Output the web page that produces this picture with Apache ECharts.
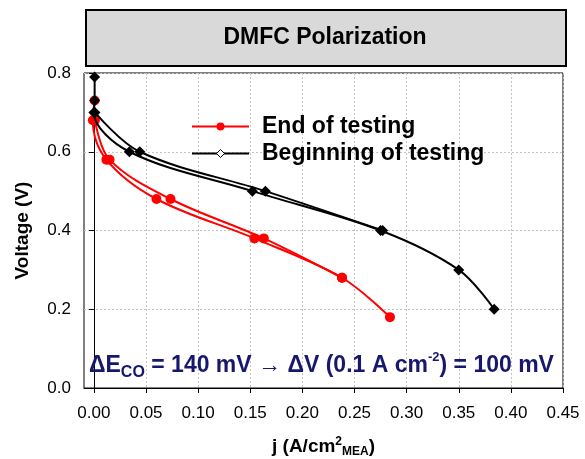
<!DOCTYPE html>
<html>
<head>
<meta charset="utf-8">
<script src="https://cdn.jsdelivr.net/npm/echarts@6/dist/echarts.min.js"></script>
<style>
  html, body { margin: 0; padding: 0; background: #fff; }
  #chart { width: 585px; height: 459px; }
</style>
</head>
<body>
<div id="chart"></div>
<script>
// Axis tick values
const xTickValues = [0.00, 0.05, 0.10, 0.15, 0.20, 0.25, 0.30, 0.35, 0.40, 0.45];
const yTickValues = [0.0, 0.2, 0.4, 0.6, 0.8];

// End of testing: current density (A/cm2) and cell voltage (V), down-sweep then return sweep
const endDownJ = [0.0007, -0.001, 0.012, 0.060, 0.154, 0.238, 0.284];
const endDownV = [0.73, 0.68, 0.58, 0.48, 0.38, 0.28, 0.18];
const endUpJ   = [0.238, 0.163, 0.0735, 0.015, 0.001];
const endUpV   = [0.28, 0.38, 0.48, 0.58, 0.68];

// Beginning of testing
const begDownJ = [0.0007, 0.0007, 0.000, 0.034, 0.152, 0.275, 0.350, 0.384];
const begDownV = [0.79, 0.73, 0.70, 0.60, 0.50, 0.40, 0.30, 0.20];
const begUpJ   = [0.277, 0.1645, 0.044, 0.001];
const begUpV   = [0.40, 0.50, 0.60, 0.70];

const pair = (xs, ys) => xs.map((x, i) => [x, ys[i]]);

const FONT = 'Liberation Sans, Arial, sans-serif';
const NAVY = '#17176e';
const END_NAME = 'End of testing';
const BEG_NAME = 'Beginning of testing';

const redSeries = (data) => ({
  name: END_NAME, type: 'line', data, smooth: 0.35,
  symbol: 'circle', symbolSize: 10,
  itemStyle: { color: '#ff0000' },
  lineStyle: { color: '#ff0000', width: 2 },
  z: 3
});
const blackSeries = (data) => ({
  name: BEG_NAME, type: 'line', data, smooth: 0.35,
  symbol: 'diamond', symbolSize: 11,
  itemStyle: { color: '#000' },
  lineStyle: { color: '#000', width: 2 },
  z: 4
});

const chart = echarts.init(document.getElementById('chart'), null, { renderer: 'canvas' });
chart.setOption({
  animation: false,
  backgroundColor: '#fff',
  textStyle: { fontFamily: FONT },
  grid: {
    left: 84, right: 22, top: 73, bottom: 71, containLabel: false, outerBoundsMode: 'none',
    show: true, borderColor: '#000', borderWidth: 1
  },
  legend: {
    orient: 'vertical', left: 186, top: 110, itemWidth: 57, itemHeight: 10, itemGap: 4,
    textStyle: { fontSize: 23, fontWeight: 'bold', color: '#000', fontFamily: FONT, padding: [0, 0, 0, 8] },
    data: [
      { name: END_NAME },
      { name: BEG_NAME, itemStyle: { color: '#fff', borderColor: '#000', borderWidth: 1 } }
    ]
  },
  xAxis: {
    type: 'value', min: -0.0095, max: 0.45,
    name: '{b|j (A/cm}{sup|2}{sub|MEA}{b|)}',
    nameLocation: 'middle', nameGap: 48,
    nameTextStyle: {
      rich: {
        b:   { fontSize: 19, fontWeight: 'bold', color: '#000', fontFamily: FONT, lineHeight: 22 },
        sup: { fontSize: 12, fontWeight: 'bold', color: '#000', fontFamily: FONT, verticalAlign: 'top', lineHeight: 22 },
        sub: { fontSize: 12, fontWeight: 'bold', color: '#000', fontFamily: FONT, verticalAlign: 'bottom', lineHeight: 22, padding: [7, 0, 0, 0] }
      }
    },
    axisLine: { show: true, onZero: false, lineStyle: { color: '#000', width: 1 } },
    axisTick: { show: true, inside: false, length: 5, customValues: xTickValues, lineStyle: { color: '#000' } },
    axisLabel: {
      customValues: xTickValues, margin: 17, fontSize: 17, color: '#000', fontFamily: FONT,
      formatter: (v) => v.toFixed(2)
    },
    splitLine: { show: true, lineStyle: { color: '#c4c4c4', width: 1, type: [2, 2] } }
  },
  yAxis: {
    type: 'value', min: 0, max: 0.8, interval: 0.2,
    name: 'Voltage (V)', nameLocation: 'middle', nameGap: 52, nameRotate: 90,
    nameTextStyle: { fontSize: 19, fontWeight: 'bold', color: '#000', fontFamily: FONT },
    axisLine: { show: true, lineStyle: { color: '#000', width: 1 } },
    axisTick: { show: true, inside: false, length: 5, lineStyle: { color: '#000' } },
    axisLabel: { margin: 13, fontSize: 17, color: '#000', fontFamily: FONT, formatter: (v) => v.toFixed(1) },
    splitLine: { show: true, lineStyle: { color: '#c4c4c4', width: 1, type: [2, 2] } }
  },
  graphic: [
    {
      type: 'rect', left: 85, top: 9, z: 10,
      shape: { width: 480, height: 56 },
      style: { fill: '#d9d9d9', stroke: '#000', lineWidth: 2 }
    },
    {
      type: 'text', x: 325, y: 38, z: 11,
      style: {
        text: 'DMFC Polarization', font: 'bold 23px ' + FONT, fill: '#000',
        align: 'center', verticalAlign: 'middle'
      }
    },
    {
      type: 'text', left: 89, top: 351, z: 11,
      style: {
        text: '{m|ΔE}{sub|CO}{m| = 140 mV }{a|→}{m| ΔV (0.1 A cm}{sup|-2}{m|) = 100 mV}',
        rich: {
          m:   { font: 'bold 23px ' + FONT, fill: NAVY, lineHeight: 30 },
          a:   { font: '23px ' + FONT, fill: NAVY, lineHeight: 30 },
          sub: { font: 'bold 16px ' + FONT, fill: NAVY, lineHeight: 30, verticalAlign: 'bottom', padding: [9, 0, 0, 0] },
          sup: { font: 'bold 13px ' + FONT, fill: NAVY, lineHeight: 30, verticalAlign: 'top' }
        }
      }
    }
  ],
  series: [
    redSeries(pair(endDownJ, endDownV)),
    redSeries(pair(endUpJ, endUpV)),
    blackSeries(pair(begDownJ, begDownV)),
    blackSeries(pair(begUpJ, begUpV))
  ]
});
</script>
</body>
</html>
